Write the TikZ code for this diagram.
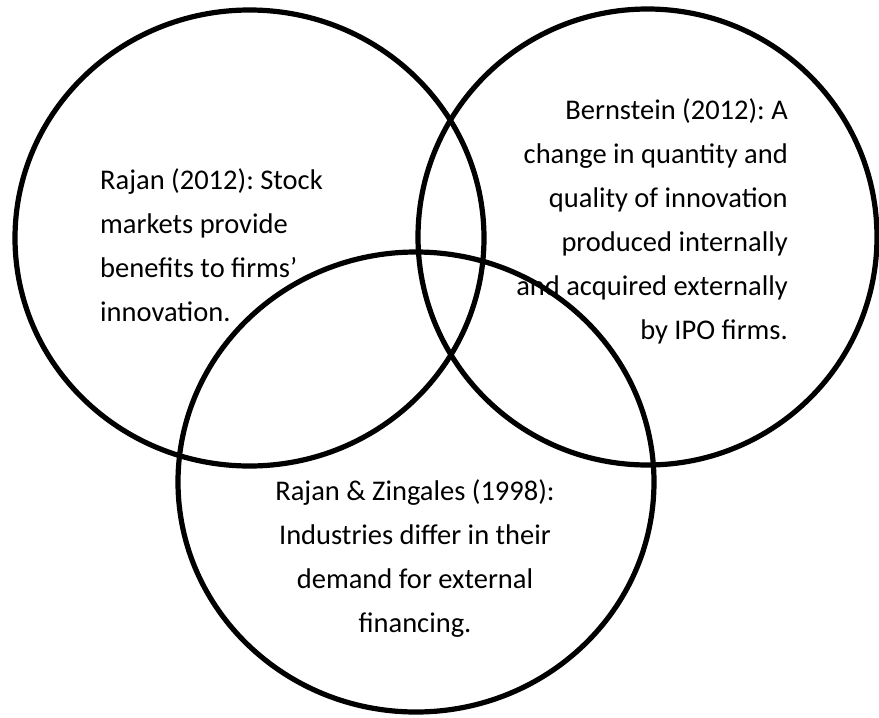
\documentclass[tikz,border=0pt]{standalone}
\usepackage{fontspec}
\setmainfont{Carlito}
\frenchspacing
\usetikzlibrary{shapes.geometric}
\begin{document}
\begin{tikzpicture}[x=1pt,y=-1pt,
  ring/.style={draw=black, line width=5.2pt, ellipse, inner sep=0pt, outer sep=0pt},
  blurb/.style={font=\fontsize{28.5}{44}\selectfont, inner sep=0pt, text=black}]
  \useasboundingbox (0,0) rectangle (879,718);
  % the three overlapping circles
  \node[ring, minimum width=469pt, minimum height=456pt] (rajan) at (249.5,238) {};
  \node[ring, minimum width=459pt, minimum height=456pt] (bern) at (647.5,237) {};
  \node[ring, minimum width=476pt, minimum height=460pt] (rz) at (416,482) {};
  % texts inside the circles (anchored on the baseline of the first line)
  \node[blurb, align=left, anchor=north west] (t1) at (100,168)
    {Rajan (2012): Stock\\markets provide\\benefits to firms’\\innovation.};
  \node[blurb, align=right, anchor=north east] (t2) at (788,98)
    {Bernstein (2012): A\\change in quantity and\\quality of innovation\\produced internally\\and acquired externally\\by IPO firms.};
  \node[blurb, align=center, anchor=north] (t3) at (415,479)
    {Rajan \& Zingales (1998):\\Industries differ in their\\demand for external\\financing.};
\end{tikzpicture}
\end{document}
